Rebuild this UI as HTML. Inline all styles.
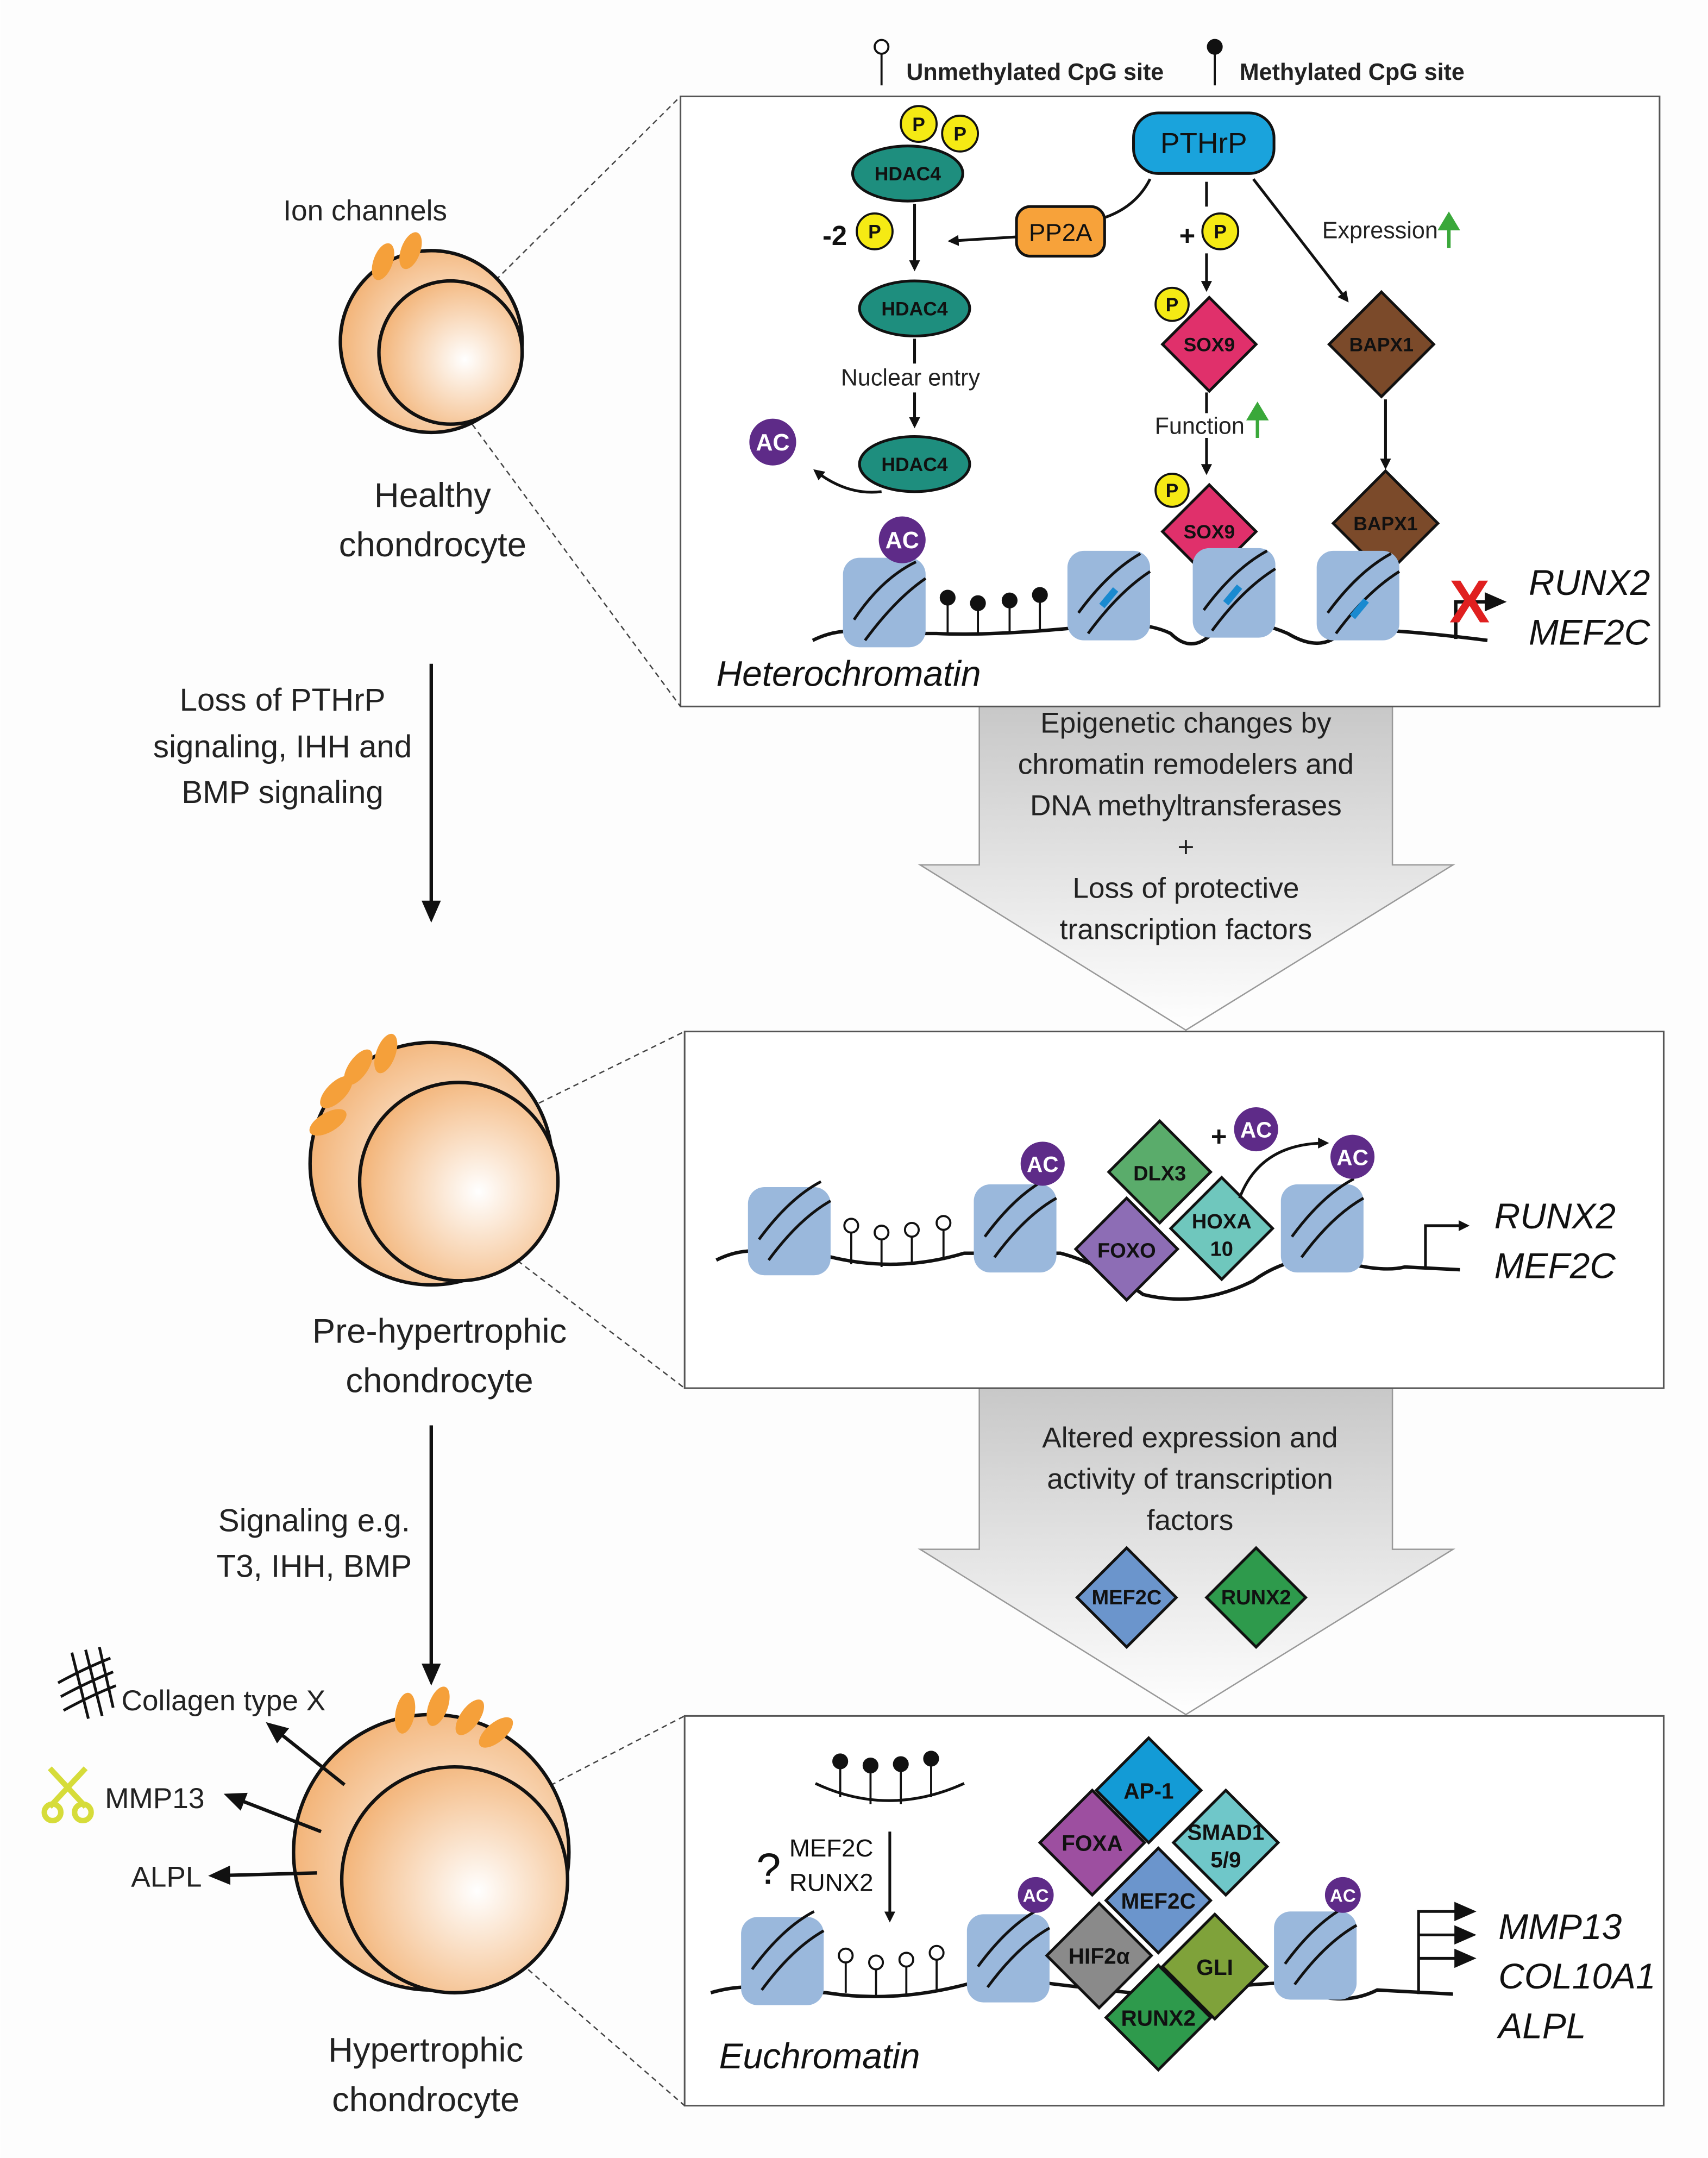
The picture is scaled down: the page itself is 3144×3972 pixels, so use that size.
<!DOCTYPE html>
<html><head><meta charset="utf-8"><style>html,body{margin:0;padding:0;background:#fff}svg{display:block}</style></head>
<body>
<svg width="3144" height="3972" viewBox="0 0 1240 1567" xmlns="http://www.w3.org/2000/svg" font-family="Liberation Sans, sans-serif">
<defs>
<linearGradient id="ga" x1="0" y1="0" x2="0" y2="1"><stop offset="0" stop-color="#c8c8c8"/><stop offset="1" stop-color="#ffffff"/></linearGradient>
<radialGradient id="cell" cx="0.6" cy="0.55" r="0.6"><stop offset="0" stop-color="#ffffff"/><stop offset="1" stop-color="#f3b57a"/></radialGradient>
<marker id="ah" markerWidth="8" markerHeight="8" refX="6" refY="4" orient="auto" markerUnits="userSpaceOnUse"><path d="M0,0 L8,4 L0,8 z" fill="#111"/></marker>
<marker id="ahb" markerWidth="16" markerHeight="14" refX="12" refY="7" orient="auto" markerUnits="userSpaceOnUse"><path d="M0,0 L16,7 L0,14 z" fill="#111"/></marker>
</defs>
<rect width="1240" height="1567" fill="#fdfdfd"/>

<g stroke="#111" stroke-width="1.5">
<line x1="640" y1="38" x2="640" y2="62"/><circle cx="640" cy="34" r="5" fill="#fff"/>
<line x1="882" y1="38" x2="882" y2="62"/><circle cx="882" cy="34" r="5" fill="#111"/>
</g>
<text x="658" y="58" font-size="17" font-weight="bold" fill="#222">Unmethylated CpG site</text>
<text x="900" y="58" font-size="17" font-weight="bold" fill="#222">Methylated CpG site</text>

<path d="M711,513 H1011 V628 H1055 L861,748 L668,628 H711 Z" fill="url(#ga)" stroke="#999"/>
<path d="M711,1008 H1011 V1125 H1055 L861,1245 L668,1125 H711 Z" fill="url(#ga)" stroke="#999"/>
<g font-size="21" fill="#222" text-anchor="middle">
<text x="861" y="532">Epigenetic changes by</text>
<text x="861" y="562">chromatin remodelers and</text>
<text x="861" y="592">DNA methyltransferases</text>
<text x="861" y="622">+</text>
<text x="861" y="652">Loss of protective</text>
<text x="861" y="682">transcription factors</text>
<text x="864" y="1051">Altered expression and</text>
<text x="864" y="1081">activity of transcription</text>
<text x="864" y="1111">factors</text>
</g>

<g fill="#fff" stroke="#555" stroke-width="1.2">
<rect x="494" y="70" width="711" height="443"/>
<rect x="497" y="749" width="711" height="259"/>
<rect x="497" y="1246" width="711" height="283"/>
</g>

<g stroke="#444" stroke-width="1" stroke-dasharray="4,3">
<line x1="325" y1="238" x2="494" y2="70"/><line x1="322" y1="280" x2="494" y2="513"/>
<line x1="322" y1="835" x2="497" y2="749"/><line x1="320" y1="873" x2="497" y2="1008"/>
<line x1="325" y1="1335" x2="497" y2="1246"/><line x1="320" y1="1375" x2="497" y2="1529"/>
</g>

<g stroke="#111" stroke-width="2.5" fill="url(#cell)">
<circle cx="313" cy="248" r="66"/><circle cx="327" cy="256" r="52"/>
<circle cx="313" cy="845" r="88"/><circle cx="333" cy="858" r="72"/>
<circle cx="313" cy="1345" r="100"/><circle cx="330" cy="1365" r="82"/>
</g>
<g fill="#f5a03a">
<ellipse cx="278" cy="190" rx="7" ry="14" transform="rotate(20 278 190)"/>
<ellipse cx="298" cy="182" rx="7" ry="14" transform="rotate(20 298 182)"/>
<ellipse cx="238" cy="815" rx="7" ry="15" transform="rotate(60 238 815)"/>
<ellipse cx="244" cy="793" rx="7" ry="15" transform="rotate(45 244 793)"/>
<ellipse cx="260" cy="775" rx="7" ry="15" transform="rotate(35 260 775)"/>
<ellipse cx="280" cy="765" rx="7" ry="15" transform="rotate(20 280 765)"/>
<ellipse cx="294" cy="1244" rx="7" ry="15" transform="rotate(10 294 1244)"/>
<ellipse cx="318" cy="1239" rx="7" ry="15" transform="rotate(20 318 1239)"/>
<ellipse cx="341" cy="1247" rx="7" ry="15" transform="rotate(35 341 1247)"/>
<ellipse cx="360" cy="1258" rx="7" ry="15" transform="rotate(50 360 1258)"/>
</g>
<g font-size="25" fill="#222" text-anchor="middle">
<text x="265" y="160" font-size="21">Ion channels</text>
<text x="314" y="368">Healthy</text><text x="314" y="404">chondrocyte</text>
<text x="319" y="975">Pre-hypertrophic</text><text x="319" y="1011">chondrocyte</text>
<text x="309" y="1497">Hypertrophic</text><text x="309" y="1533">chondrocyte</text>
<text x="205" y="516" font-size="23">Loss of PTHrP</text>
<text x="205" y="550" font-size="23">signaling, IHH and</text>
<text x="205" y="583" font-size="23">BMP signaling</text>
<text x="228" y="1112" font-size="23">Signaling e.g.</text>
<text x="228" y="1145" font-size="23">T3, IHH, BMP</text>
</g>
<g stroke="#111" stroke-width="2.5">
<line x1="313" y1="482" x2="313" y2="666" marker-end="url(#ahb)"/>
<line x1="313" y1="1035" x2="313" y2="1220" marker-end="url(#ahb)"/>
<line x1="250" y1="1296" x2="196" y2="1253" marker-end="url(#ahb)"/>
<line x1="233" y1="1330" x2="166" y2="1304" marker-end="url(#ahb)"/>
<line x1="230" y1="1360" x2="155" y2="1362" marker-end="url(#ahb)"/>
</g>
<g font-size="21" fill="#222">
<text x="88" y="1242">Collagen type X</text>
<text x="76" y="1313">MMP13</text>
<text x="95" y="1370">ALPL</text>
</g>
<g stroke="#111" stroke-width="2" fill="none">
<path d="M42,1222 Q60,1212 80,1204"/><path d="M44,1232 Q62,1222 82,1214"/><path d="M46,1242 Q64,1232 84,1224"/>
<path d="M52,1200 L64,1248"/><path d="M62,1198 L74,1246"/><path d="M72,1196 L82,1240"/>
</g>
<g stroke="#d6dc3a" stroke-width="4" fill="none">
<line x1="36" y1="1284" x2="62" y2="1312"/><line x1="62" y1="1284" x2="36" y2="1312"/>
<circle cx="38" cy="1316" r="6"/><circle cx="60" cy="1316" r="6"/>
</g>

<rect x="823" y="82" width="102" height="44" rx="18" fill="#1aa3dc" stroke="#111" stroke-width="2"/>
<text x="874" y="111" font-size="21" fill="#111" text-anchor="middle">PTHrP</text>
<g fill="#1e8e7e" stroke="#111" stroke-width="2">
<ellipse cx="659" cy="126" rx="40" ry="20"/><ellipse cx="664" cy="224" rx="40" ry="20"/><ellipse cx="664" cy="337" rx="40" ry="20"/>
</g>
<g font-size="14" font-weight="bold" fill="#111" text-anchor="middle">
<text x="659" y="131">HDAC4</text><text x="664" y="229">HDAC4</text><text x="664" y="342">HDAC4</text>
</g>
<g fill="#f5ea14" stroke="#111" stroke-width="1.5">
<circle cx="667" cy="90" r="13"/><circle cx="697" cy="97" r="13"/><circle cx="635" cy="168" r="13"/>
<circle cx="886" cy="168" r="13"/><circle cx="851" cy="221" r="12"/><circle cx="851" cy="356" r="12"/>
</g>
<g font-size="14" font-weight="bold" fill="#111" text-anchor="middle">
<text x="667" y="95">P</text><text x="697" y="102">P</text><text x="635" y="173">P</text>
<text x="886" y="173">P</text><text x="851" y="226">P</text><text x="851" y="361">P</text>
</g>
<text x="606" y="178" font-size="20" font-weight="bold" fill="#111" text-anchor="middle">-2</text>
<text x="862" y="178" font-size="20" font-weight="bold" fill="#111" text-anchor="middle">+</text>
<rect x="738" y="150" width="64" height="36" rx="10" fill="#f7a23a" stroke="#111" stroke-width="2"/>
<text x="770" y="175" font-size="18" fill="#111" text-anchor="middle">PP2A</text>
<g stroke="#111" stroke-width="2" fill="none">
<path d="M835,130 Q825,150 802,158"/>
<line x1="738" y1="172" x2="690" y2="175" marker-end="url(#ah)"/>
<line x1="664" y1="148" x2="664" y2="195" marker-end="url(#ah)"/>
<line x1="664" y1="246" x2="664" y2="264"/>
<line x1="664" y1="285" x2="664" y2="309" marker-end="url(#ah)"/>
<path d="M640,357 Q615,360 592,342" marker-end="url(#ah)"/>
<line x1="876" y1="132" x2="876" y2="150"/>
<line x1="876" y1="184" x2="876" y2="210" marker-end="url(#ah)"/>
<line x1="876" y1="285" x2="876" y2="300"/>
<line x1="876" y1="318" x2="876" y2="343" marker-end="url(#ah)"/>
<line x1="910" y1="130" x2="978" y2="218" marker-end="url(#ah)"/>
<line x1="1006" y1="290" x2="1006" y2="339" marker-end="url(#ah)"/>
</g>
<text x="661" y="280" font-size="17" fill="#222" text-anchor="middle">Nuclear entry</text>
<text x="871" y="315" font-size="17" fill="#222" text-anchor="middle">Function</text>
<text x="1002" y="173" font-size="17" fill="#222" text-anchor="middle">Expression</text>
<g stroke="#3aa83a" stroke-width="2.5" fill="#3aa83a">
<line x1="913" y1="318" x2="913" y2="302"/><path d="M907,304 L913,294 L919,304z"/>
<line x1="1052" y1="180" x2="1052" y2="164"/><path d="M1046,166 L1052,156 L1058,166z"/>
</g>
<g stroke="#111" stroke-width="2">
<path d="M878,216 L912,250 L878,284 L844,250z" fill="#e0306b"/>
<path d="M878,352 L912,386 L878,420 L844,386z" fill="#e0306b"/>
<path d="M1003,212 L1041,250 L1003,288 L965,250z" fill="#7b4a2a"/>
<path d="M1006,342 L1044,380 L1006,418 L968,380z" fill="#7b4a2a"/>
</g>
<g font-size="14" font-weight="bold" fill="#111" text-anchor="middle">
<text x="878" y="255">SOX9</text><text x="878" y="391">SOX9</text>
<text x="1003" y="255">BAPX1</text><text x="1006" y="385">BAPX1</text>
</g>
<path d="M590,465 Q610,455 630,460 L680,460 Q720,462 790,455 Q830,450 850,460 Q865,475 880,460 Q900,445 935,460 Q960,475 975,458 Q1000,455 1080,465" stroke="#111" stroke-width="2.5" fill="none"/>
<g fill="#9ab8dc">
<rect x="612" y="405" width="60" height="65" rx="12"/><rect x="775" y="400" width="60" height="65" rx="12"/>
<rect x="866" y="398" width="60" height="65" rx="12"/><rect x="956" y="400" width="60" height="65" rx="12"/>
</g>
<g stroke="#111" stroke-width="2" fill="none">
<path d="M620,450 Q640,420 665,408"/><path d="M628,465 Q650,435 672,420"/>
<path d="M783,445 Q805,415 828,402"/><path d="M790,460 Q812,430 835,415"/>
<path d="M874,443 Q896,413 920,400"/><path d="M880,458 Q902,428 926,413"/>
<path d="M964,445 Q986,415 1010,402"/><path d="M970,460 Q992,430 1016,415"/>
</g>
<g stroke="#1a8ad0" stroke-width="5"><line x1="800" y1="440" x2="810" y2="428"/><line x1="890" y1="438" x2="900" y2="426"/><line x1="982" y1="448" x2="992" y2="436"/></g>
<g stroke="#111" stroke-width="1.5" fill="#111">
<line x1="688" y1="460" x2="688" y2="436"/><circle cx="688" cy="434" r="5"/>
<line x1="710" y1="460" x2="710" y2="440"/><circle cx="710" cy="438" r="5"/>
<line x1="733" y1="459" x2="733" y2="438"/><circle cx="733" cy="436" r="5"/>
<line x1="755" y1="458" x2="755" y2="434"/><circle cx="755" cy="432" r="5"/>
</g>
<g fill="#5e2b88">
<circle cx="561" cy="321" r="17"/><circle cx="655" cy="392" r="17"/>
</g>
<g font-size="17" font-weight="bold" fill="#fff" text-anchor="middle"><text x="561" y="327">AC</text><text x="655" y="398">AC</text></g>
<g stroke="#111" stroke-width="2.5" fill="none"><path d="M1057,464 V437 H1090" marker-end="url(#ahb)"/></g>
<text x="1067" y="452" font-size="44" font-weight="bold" fill="#e02020" text-anchor="middle">X</text>
<g font-size="26" font-style="italic" fill="#111"><text x="1110" y="432">RUNX2</text><text x="1110" y="468">MEF2C</text>
<text x="520" y="498">Heterochromatin</text></g>

<path d="M520,915 Q540,905 560,910 L600,912 Q650,925 700,910 L770,910 Q800,918 830,940 Q870,950 910,930 Q930,915 960,912 Q1000,925 1020,920 L1060,922" stroke="#111" stroke-width="2.5" fill="none"/>
<g fill="#9ab8dc">
<rect x="543" y="862" width="60" height="64" rx="12"/><rect x="707" y="860" width="60" height="64" rx="12"/><rect x="930" y="860" width="60" height="64" rx="12"/>
</g>
<g stroke="#111" stroke-width="2" fill="none">
<path d="M551,900 Q573,870 596,858"/><path d="M558,915 Q580,885 603,872"/>
<path d="M715,898 Q737,868 760,856"/><path d="M722,913 Q744,883 767,870"/>
<path d="M938,898 Q960,868 983,856"/><path d="M945,913 Q967,883 990,870"/>
</g>
<g stroke="#111" stroke-width="1.5" fill="#fff">
<line x1="618" y1="918" x2="618" y2="895"/><circle cx="618" cy="890" r="5"/>
<line x1="640" y1="920" x2="640" y2="900"/><circle cx="640" cy="895" r="5"/>
<line x1="662" y1="918" x2="662" y2="898"/><circle cx="662" cy="893" r="5"/>
<line x1="685" y1="915" x2="685" y2="893"/><circle cx="685" cy="888" r="5"/>
</g>
<g stroke="#111" stroke-width="2">
<path d="M842,814 L879,851 L842,888 L805,851z" fill="#5aac6b"/>
<path d="M818,870 L855,907 L818,944 L781,907z" fill="#8d6db5"/>
<path d="M887,855 L924,892 L887,929 L850,892z" fill="#6fc7bd"/>
</g>
<g font-size="15" font-weight="bold" fill="#111" text-anchor="middle">
<text x="842" y="857">DLX3</text><text x="818" y="913">FOXO</text><text x="887" y="892">HOXA</text><text x="887" y="912">10</text>
</g>
<g fill="#5e2b88"><circle cx="757" cy="845" r="16"/><circle cx="982" cy="840" r="16"/><circle cx="912" cy="820" r="16"/></g>
<g font-size="16" font-weight="bold" fill="#fff" text-anchor="middle"><text x="757" y="851">AC</text><text x="982" y="846">AC</text><text x="912" y="826">AC</text></g>
<text x="885" y="832" font-size="20" font-weight="bold" fill="#111" text-anchor="middle">+</text>
<path d="M900,870 Q915,830 963,830" stroke="#111" stroke-width="2" fill="none" marker-end="url(#ah)"/>
<path d="M1035,920 V890 H1065" stroke="#111" stroke-width="2" fill="none" marker-end="url(#ah)"/>
<g font-size="26" font-style="italic" fill="#111"><text x="1085" y="892">RUNX2</text><text x="1085" y="928">MEF2C</text></g>

<g stroke="#111" stroke-width="2">
<path d="M818,1124 L854,1160 L818,1196 L782,1160z" fill="#6b95cc"/>
<path d="M912,1124 L948,1160 L912,1196 L876,1160z" fill="#2e9a4c"/>
</g>
<g font-size="15" font-weight="bold" fill="#111" text-anchor="middle"><text x="818" y="1165">MEF2C</text><text x="912" y="1165">RUNX2</text></g>

<path d="M592,1295 Q645,1320 700,1295" stroke="#111" stroke-width="2" fill="none"/>
<g stroke="#111" stroke-width="1.5" fill="#111">
<line x1="610" y1="1305" x2="610" y2="1282"/><circle cx="610" cy="1279" r="5"/>
<line x1="632" y1="1310" x2="632" y2="1285"/><circle cx="632" cy="1282" r="5"/>
<line x1="654" y1="1310" x2="654" y2="1284"/><circle cx="654" cy="1281" r="5"/>
<line x1="676" y1="1305" x2="676" y2="1280"/><circle cx="676" cy="1277" r="5"/>
</g>
<text x="558" y="1368" font-size="32" fill="#111" text-anchor="middle">?</text>
<g font-size="18" fill="#111"><text x="573" y="1348">MEF2C</text><text x="573" y="1373">RUNX2</text></g>
<line x1="646" y1="1330" x2="646" y2="1394" stroke="#111" stroke-width="2" marker-end="url(#ah)"/>
<path d="M516,1447 Q540,1440 560,1445 L600,1447 Q650,1455 705,1440 L760,1440 Q800,1445 850,1450 Q900,1440 935,1440 Q970,1460 1000,1445 L1055,1448" stroke="#111" stroke-width="2.5" fill="none"/>
<g fill="#9ab8dc">
<rect x="538" y="1392" width="60" height="64" rx="12"/><rect x="702" y="1390" width="60" height="64" rx="12"/><rect x="925" y="1388" width="60" height="64" rx="12"/>
</g>
<g stroke="#111" stroke-width="2" fill="none">
<path d="M546,1430 Q568,1400 591,1388"/><path d="M553,1445 Q575,1415 598,1402"/>
<path d="M710,1428 Q732,1398 755,1386"/><path d="M717,1443 Q739,1413 762,1400"/>
<path d="M933,1426 Q955,1396 978,1384"/><path d="M940,1441 Q962,1411 985,1398"/>
</g>
<g stroke="#111" stroke-width="1.5" fill="#fff">
<line x1="614" y1="1447" x2="614" y2="1425"/><circle cx="614" cy="1420" r="5"/>
<line x1="636" y1="1450" x2="636" y2="1430"/><circle cx="636" cy="1425" r="5"/>
<line x1="658" y1="1450" x2="658" y2="1428"/><circle cx="658" cy="1423" r="5"/>
<line x1="680" y1="1446" x2="680" y2="1423"/><circle cx="680" cy="1418" r="5"/>
</g>
<g stroke="#111" stroke-width="2">
<path d="M834,1262 L872,1300 L834,1338 L796,1300z" fill="#139bd6"/>
<path d="M793,1300 L831,1338 L793,1376 L755,1338z" fill="#9d4fa0"/>
<path d="M890,1300 L928,1338 L890,1376 L852,1338z" fill="#6fc7c9"/>
<path d="M841,1342 L879,1380 L841,1418 L803,1380z" fill="#6b95cc"/>
<path d="M798,1382 L836,1420 L798,1458 L760,1420z" fill="#8a8a8a"/>
<path d="M882,1390 L920,1428 L882,1466 L844,1428z" fill="#7fa23a"/>
<path d="M841,1427 L879,1465 L841,1503 L803,1465z" fill="#2e9a4c"/>
</g>
<g font-size="16" font-weight="bold" fill="#111" text-anchor="middle">
<text x="834" y="1306">AP-1</text><text x="793" y="1344">FOXA</text>
<text x="890" y="1336">SMAD1</text><text x="890" y="1356">5/9</text>
<text x="841" y="1386">MEF2C</text><text x="798" y="1426">HIF2α</text>
<text x="882" y="1434">GLI</text><text x="841" y="1471">RUNX2</text>
</g>
<g fill="#5e2b88"><circle cx="752" cy="1376" r="13"/><circle cx="975" cy="1376" r="13"/></g>
<g font-size="13" font-weight="bold" fill="#fff" text-anchor="middle"><text x="752" y="1381">AC</text><text x="975" y="1381">AC</text></g>
<g stroke="#111" stroke-width="2" fill="none">
<path d="M1030,1448 V1388 H1068" marker-end="url(#ahb)"/>
<path d="M1030,1405 H1068" marker-end="url(#ahb)"/>
<path d="M1030,1422 H1068" marker-end="url(#ahb)"/>
</g>
<g font-size="26" font-style="italic" fill="#111"><text x="1088" y="1408">MMP13</text><text x="1088" y="1444">COL10A1</text><text x="1088" y="1480">ALPL</text>
<text x="522" y="1502">Euchromatin</text></g>
</svg>
</body></html>
